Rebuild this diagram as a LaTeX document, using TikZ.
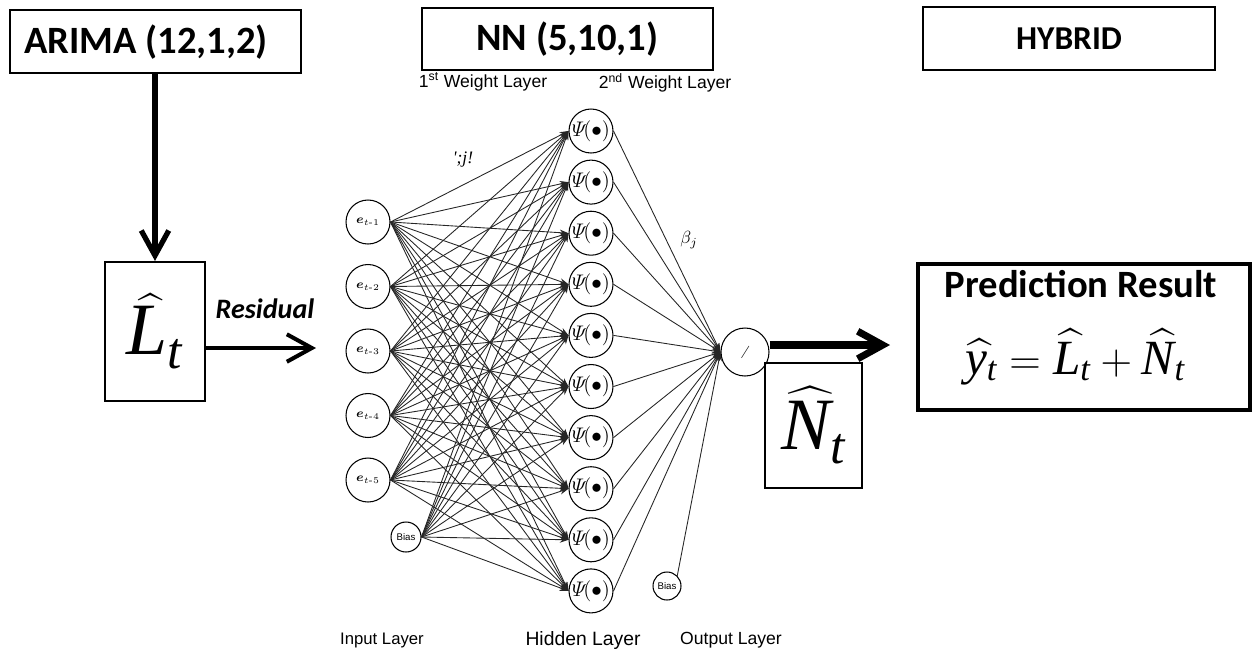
\documentclass[tikz,border=0pt]{standalone}
\usepackage{amsmath}
\usepackage{fontspec}
\newfontfamily\titlefont{Carlito}
\newfontfamily\labfont{Liberation Sans}
\newfontfamily\serfont{Liberation Serif}
\newcommand\tv[1]{\text{\serfont\itshape #1}}
\usetikzlibrary{arrows.meta,calc}
\begin{document}
\begin{tikzpicture}[x=0.02cm,y=-0.02cm,
  boxA/.style={draw, line width=1.6pt, inner sep=0pt},
  boxB/.style={draw, line width=1.2pt, inner sep=0pt},
  ttl/.style={font=\titlefont\bfseries\fontsize{22}{24}\selectfont, inner sep=0pt},
  lay/.style={font=\labfont\fontsize{9.5}{11}\selectfont, inner sep=0pt},
  inN/.style={circle, draw, line width=0.6pt, minimum size=0.88cm, inner sep=0pt, font=\fontsize{7.5}{8}\selectfont},
  hidN/.style={circle, draw, line width=0.6pt, minimum size=0.88cm, inner sep=0pt, font=\fontsize{12}{13}\selectfont},
  biasN/.style={circle, draw, line width=0.6pt, inner sep=0pt, font=\labfont\fontsize{5.5}{6}\selectfont},
  conn/.style={line width=0.5pt, black!85, -{Stealth[length=5pt,width=3.5pt]}},
  bigarrow/.style={line width=#1, -{Straight Barb[length=0.5cm,width=0.55cm]}},
]
\useasboundingbox (0,0) rectangle (1254,654);

% ARIMA part
\node[boxA, minimum width=5.82cm, minimum height=1.26cm] (arima) at (155.5,41.5) {};
\node[ttl] (arimaT) at (146,42) {ARIMA (12,1,2)};
\node[boxB, minimum width=2.0cm, minimum height=2.78cm, font=\fontsize{42}{46}\selectfont] (Lbox) at (155,331.5) {$\skew{3}{\widehat}{\tv{L}}_{\tv{t}}$};
\draw[bigarrow=3pt] (arima.south -| Lbox.north) -- (Lbox.north);
\node[font=\titlefont\bfseries\itshape\fontsize{16}{18}\selectfont, inner sep=0pt] (resid) at (265,309) {Residual};
\coordinate (resEnd) at (316,348);
\draw[bigarrow=2.3pt] (Lbox.east |- resEnd) -- (resEnd);

% NN title
\node[boxB, line width=1.4pt, minimum width=5.82cm, minimum height=1.24cm, ttl] (nn) at (567.5,39) {NN (5,10,1)};
\node[lay, font=\labfont\fontsize{10}{11}\selectfont] (w1) at (483,82) {1\textsuperscript{st} Weight Layer};
\node[lay, font=\labfont\fontsize{10}{11}\selectfont] (w2) at (665,83) {2\textsuperscript{nd} Weight Layer};

% HYBRID
\node[boxB, line width=1.4pt, minimum width=5.84cm, minimum height=1.26cm, ttl, font=\titlefont\bfseries\fontsize{19}{22}\selectfont] (hyb) at (1069,38.5) {HYBRID};

% input nodes
\node[inN] (in1) at (368,222) {$\boldsymbol{e}_{t\text{-}1}$};
\node[inN] (in2) at (368,286.5) {$\boldsymbol{e}_{t\text{-}2}$};
\node[inN] (in3) at (368,351) {$\boldsymbol{e}_{t\text{-}3}$};
\node[inN] (in4) at (368,415.5) {$\boldsymbol{e}_{t\text{-}4}$};
\node[inN] (in5) at (368,480) {$\boldsymbol{e}_{t\text{-}5}$};
\node[biasN, minimum size=0.6cm] (b1) at (406,537) {Bias};

% hidden nodes
\foreach \j in {1,...,10}{
  \node[hidN] (h\j) at (591,{131+51.1*(\j-1)}) {$\varPsi\!(\bullet)$};
}

% output
\node[circle, draw, line width=0.6pt, minimum size=0.96cm, inner sep=0pt, font=\fontsize{7}{8}\selectfont] (out) at (745,352) {\textit{/}};
\node[biasN, minimum size=0.56cm] (b2) at (667,586) {Bias};

% connections
\foreach \i in {1,...,5}{
  \foreach \j in {1,...,10}{
    \draw[conn] (in\i.east) -- (h\j.west);
  }
}
\foreach \j in {1,...,10}{
  \draw[conn] (b1.east) -- (h\j.west);
  \draw[conn] (h\j.east) -- (out.west);
}
\draw[conn] (b2.north east) -- (out.west);

\node[font=\serfont\itshape\fontsize{10}{11}\selectfont, inner sep=0pt] (gam) at (463,160) {';j!};
\node[font=\fontsize{10}{11}\selectfont, inner sep=0pt] (bet) at (689,240) {$\beta_j$};

% output arrow
\coordinate (outEnd) at (890,345);
\draw[bigarrow=4pt] (out.east |- outEnd) -- (outEnd);
\node[boxB, minimum width=1.94cm, minimum height=2.5cm, font=\fontsize{42}{46}\selectfont] (Nbox) at (813.5,425.5) {$\skew{4}{\widehat}{\tv{N}}_{\tv{t}}$};

% prediction
\node[draw, line width=2.2pt, minimum width=6.64cm, minimum height=2.92cm, inner sep=0pt] (pred) at (1084,337) {};
\node[ttl] (predT) at (1081,284) {Prediction Result};
\node[font=\fontsize{28}{30}\selectfont, inner sep=0pt] (form) at (1075,357) {$\skew{3}{\widehat}{\tv{y}}_{\tv{t}} = \skew{3}{\widehat}{\tv{L}}_{\tv{t}} + \skew{4}{\widehat}{\tv{N}}_{\tv{t}}$};

% layer labels
\node[lay] (l1) at (382,640) {Input Layer};
\node[lay, font=\labfont\fontsize{11}{12}\selectfont] (l2) at (583,640) {Hidden Layer};
\node[lay, font=\labfont\fontsize{10}{11}\selectfont] (l3) at (731,640) {Output Layer};
\end{tikzpicture}
\end{document}
